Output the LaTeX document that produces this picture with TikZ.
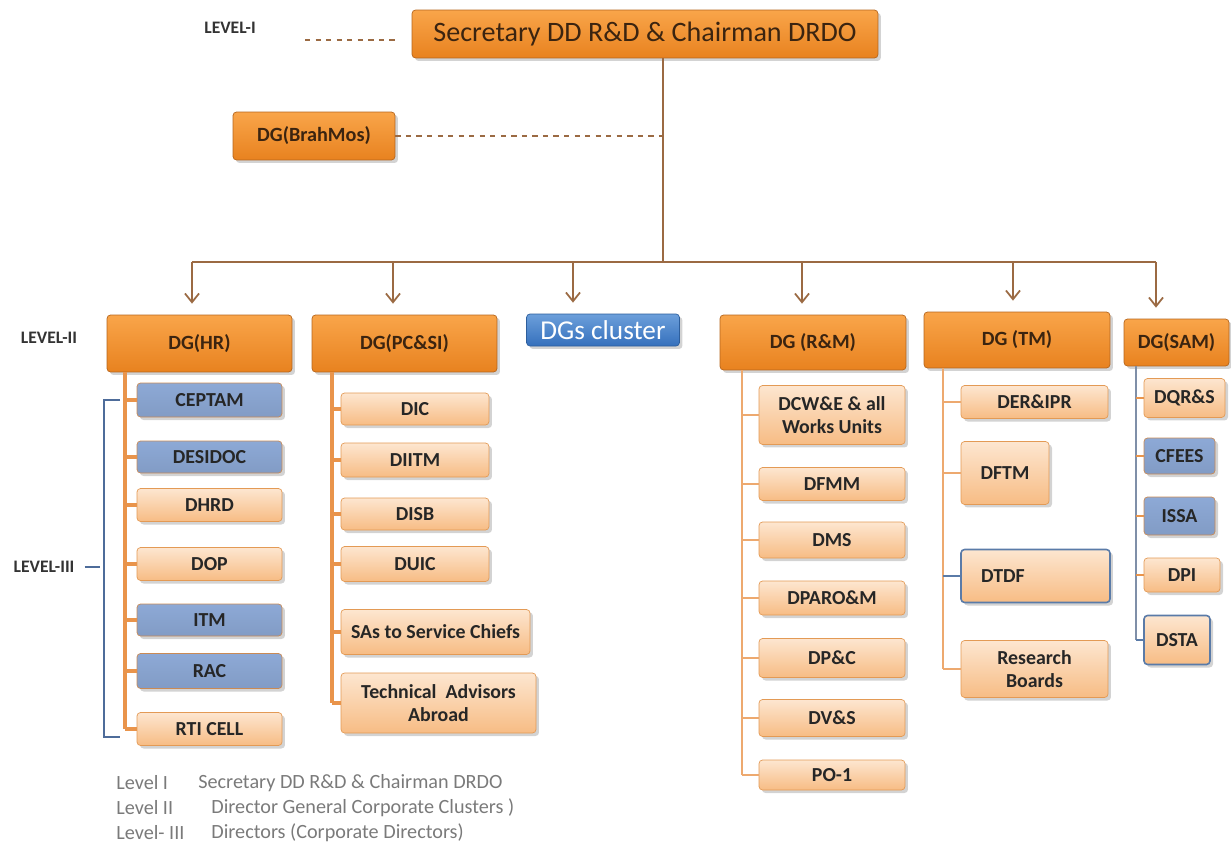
\documentclass[tikz,border=0pt]{standalone}
\usepackage{fontspec}
\setmainfont{Carlito}
\usetikzlibrary{arrows.meta,shadows}

\definecolor{dgtop}{HTML}{F9A54A}
\definecolor{dgbot}{HTML}{E8821F}
\definecolor{dgline}{HTML}{B5651D}
\definecolor{dgtext}{HTML}{3B2410}
\definecolor{dirtop}{HTML}{FDE6D0}
\definecolor{dirbot}{HTML}{F7BC84}
\definecolor{dirline}{HTML}{E39A55}
\definecolor{bluefill}{HTML}{8DA9D6}
\definecolor{blueedge}{HTML}{C98A55}
\definecolor{blueline}{HTML}{5A7BA8}
\definecolor{clustop}{HTML}{6C9FDB}
\definecolor{clusbot}{HTML}{3570BC}
\definecolor{clusline}{HTML}{2D5E9C}
\definecolor{linkbrown}{HTML}{9B6A43}
\definecolor{trunkorange}{HTML}{E9944B}
\definecolor{samtrunk}{HTML}{7F8FA8}
\definecolor{bracketblue}{HTML}{4E6C9A}
\definecolor{legendgrey}{HTML}{7A7A7A}

\tikzset{
  wh/.style 2 args={minimum width=#1cm, minimum height=#2cm},
  shade/.style={drop shadow={opacity=.35, shadow xshift=.06cm, shadow yshift=-.06cm}},
  topbox/.style={rounded corners=2pt, draw=dgline, top color=dgtop, bottom color=dgbot, shade,
    font=\fontsize{16}{18}\selectfont, text=dgtext},
  dgbox/.style={rounded corners=2pt, draw=dgline, top color=dgtop, bottom color=dgbot, shade,
    font=\bfseries\fontsize{11.5}{13}\selectfont, text=dgtext},
  dirbox/.style={rounded corners=2pt, draw=dirline, top color=dirtop, bottom color=dirbot, shade,
    align=center, inner sep=1pt, font=\bfseries\fontsize{11.3}{13}\selectfont, text=black!85},
  bluebox/.style={dirbox, draw=blueedge, top color=bluefill, bottom color=bluefill!92!black},
  blueedged/.style={dirbox, draw=blueline, line width=.9pt},
  clusterbox/.style={rounded corners=2pt, draw=clusline, top color=clustop, bottom color=clusbot, shade,
    inner sep=1pt, font=\fontsize{15.5}{16}\selectfont, text=white},
  lvl/.style={font=\bfseries\fontsize{10}{11}\selectfont, text=black!80},
  legend/.style={anchor=west, inner sep=0pt, font=\fontsize{11.5}{13}\selectfont, text=legendgrey},
  link/.style={draw=linkbrown, line width=1pt},
  drop/.style={link, -{Straight Barb[length=5pt,width=8pt]}, shorten >=0.22cm},
  dashlink/.style={draw=linkbrown, dashed, line width=.8pt},
  trunk/.style={draw=trunkorange, line width=1.8pt},
}

\begin{document}
\begin{tikzpicture}[x=0.02cm, y=-0.02cm]
  \useasboundingbox (0,0) rectangle (1231,845);

  % Level I
  \node[topbox, wh={9.32}{0.96}] (sec) at (645,34) {Secretary DD R\&D \& Chairman DRDO};
  \node[dgbox, wh={3.24}{0.96}] (brahmos) at (314,136) {DG(BrahMos)};
  \node[lvl] (lvlone) at (230,28) {LEVEL-I};

  % Level II
  \node[dgbox, wh={3.7}{1.14}]  (hr)      at (199.5,343.5) {DG(HR)};
  \node[dgbox, wh={3.7}{1.14}]  (pcsi)    at (404.5,343.5) {DG(PC\&SI)};
  \node[clusterbox, wh={3.06}{0.64}] (cluster) at (603,330) {DGs cluster};
  \node[dgbox, wh={3.72}{1.1}]  (rm)      at (813,342.5) {DG (R\&M)};
  \node[dgbox, wh={3.72}{1.12}] (tm)      at (1017,340) {DG (TM)};
  \node[dgbox, wh={2.1}{0.94}]  (sam)     at (1176.5,342.5) {DG(SAM)};
  \node[lvl] (lvltwo) at (49,338) {LEVEL-II};

  % Level III - HR
  \node[bluebox, wh={2.9}{0.68}] (ceptam)  at (209.5,400) {CEPTAM};
  \node[bluebox, wh={2.9}{0.64}] (desidoc) at (209.5,457) {DESIDOC};
  \node[dirbox,  wh={2.9}{0.66}] (dhrd)    at (209.5,505) {DHRD};
  \node[dirbox,  wh={2.9}{0.66}] (dop)     at (209.5,564) {DOP};
  \node[bluebox, wh={2.9}{0.64}] (itm)     at (209.5,620) {ITM};
  \node[bluebox, wh={2.9}{0.7}]  (rac)     at (209.5,671) {RAC};
  \node[dirbox,  wh={2.9}{0.66}] (rti)     at (209.5,729) {RTI CELL};

  % Level III - PC&SI
  \node[dirbox, wh={2.96}{0.64}] (dic)   at (415,409) {DIC};
  \node[dirbox, wh={2.96}{0.68}] (diitm) at (415,460) {DIITM};
  \node[dirbox, wh={2.96}{0.64}] (disb)  at (415,514) {DISB};
  \node[dirbox, wh={2.96}{0.7}]  (duic)  at (415,564) {DUIC};
  \node[dirbox, wh={3.78}{0.9}]  (sas)   at (435.5,632) {SAs to Service Chiefs};
  \node[dirbox, wh={3.9}{1.2}]   (tech)  at (438.5,703) {Technical\ \ Advisors\\Abroad};

  % Level III - R&M
  \node[dirbox, wh={2.92}{1.18}] (dcwe)  at (832,415) {DCW\&E \& all\\Works Units};
  \node[dirbox, wh={2.92}{0.66}] (dfmm)  at (832,484) {DFMM};
  \node[dirbox, wh={2.92}{0.72}] (dms)   at (832,540) {DMS};
  \node[dirbox, wh={2.92}{0.68}] (dparo) at (832,598) {DPARO\&M};
  \node[dirbox, wh={2.92}{0.78}] (dpc)   at (832,658) {DP\&C};
  \node[dirbox, wh={2.92}{0.74}] (dvs)   at (832,718) {DV\&S};
  \node[dirbox, wh={2.92}{0.6}]  (po)    at (832,775) {PO-1};

  % Level III - TM
  \node[dirbox, wh={2.94}{0.66}] (derip) at (1034.5,402) {DER\&IPR};
  \node[dirbox, wh={1.76}{1.26}] (dftm)  at (1005,473) {DFTM};
  \node[blueedged, wh={2.98}{1.06}, inner xsep=0.4cm, text width=2.18cm, align=left] (dtdf) at (1035.5,576) {DTDF};
  \node[dirbox, wh={2.94}{1.14}] (rboards) at (1034.5,669) {Research\\Boards};

  % Level III - SAM
  \node[dirbox,  wh={1.62}{0.78}] (dqrs)  at (1184.5,398) {DQR\&S};
  \node[bluebox, wh={1.42}{0.72}] (cfees) at (1179.5,456) {CFEES};
  \node[bluebox, wh={1.42}{0.76}] (issa)  at (1179.5,516) {ISSA};
  \node[dirbox,  wh={1.52}{0.68}] (dpi)   at (1182,575) {DPI};
  \node[blueedged, wh={1.32}{0.98}] (dsta) at (1177,640) {DSTA};

  \node[lvl] (lvlthree) at (44,567) {LEVEL-III};

  % Connect the nodes
  \coordinate (stem) at (663,262);
  \draw[link] (sec.south -| stem) -- (stem);
  \coordinate (b1) at (192,262);
  \coordinate (b2) at (393,262);
  \coordinate (b3) at (573,262);
  \coordinate (b4) at (802,262);
  \coordinate (b5) at (1013,262);
  \coordinate (b6) at (1156,262);
  \draw[link] (b1) -- (b6);
  \foreach \b/\n in {b1/hr, b2/pcsi, b3/cluster, b4/rm, b5/tm, b6/sam}
    \draw[drop] (\b) -- (\b |- \n.north);

  \coordinate (d1) at (305,40);
  \draw[dashlink] (d1) -- (d1 -| sec.west) [shorten >=0.24cm];
  \draw[dashlink] (brahmos) -- (brahmos -| stem);

  % Trunks
  \coordinate (hrt) at (125,372);
  \coordinate (pct) at (332,372);
  \coordinate (rmt) at (742,370);
  \coordinate (tmt) at (943,368);
  \coordinate (samt) at (1136,366);
  \draw[trunk] (hrt) -- (hrt |- rti.west);
  \foreach \c in {ceptam, desidoc, dhrd, dop, itm, rac, rti}
    \draw[trunk] (hrt |- \c.west) -- (\c.west);
  \draw[trunk] (pct) -- (pct |- tech.west);
  \foreach \c in {dic, diitm, disb, duic, sas, tech}
    \draw[trunk] (pct |- \c.west) -- (\c.west);
  \draw[trunk, line width=1.5pt, draw=trunkorange!80] (rmt) -- (rmt |- po.west);
  \foreach \c in {dcwe, dfmm, dms, dparo, dpc, dvs, po}
    \draw[trunk, line width=1.5pt, draw=trunkorange!80] (rmt |- \c.west) -- (\c.west);
  \draw[trunk, line width=1.5pt, draw=trunkorange!80] (tmt) -- (tmt |- rboards.west);
  \foreach \c in {derip, dftm, rboards}
    \draw[trunk, line width=1.5pt, draw=trunkorange!80] (tmt |- \c.west) -- (\c.west);
  \draw[line width=1.5pt, draw=blueline] (tmt |- dtdf.west) -- (dtdf.west);
  \draw[line width=1.5pt, draw=samtrunk] (samt) -- (samt |- dsta.west);
  \foreach \c in {dqrs, cfees, issa, dpi}
    \draw[trunk, line width=1.5pt] (samt |- \c.west) -- (\c.west);
  \draw[line width=1.5pt, draw=blueline] (samt |- dsta.west) -- (dsta.west);

  % Level III bracket
  \coordinate (brtop) at (120,400);
  \coordinate (brbot) at (120,737);
  \draw[bracketblue, line width=1pt] (brtop) -- ++(-16,0) |- (brbot);
  \draw[bracketblue, line width=1pt] (lvlthree.east) ++(4,0) -- (100,567);

  % Legend
  \node[legend] (leg1) at (116,783) {Level I};
  \node[legend] (leg1t) at (198,783) {Secretary DD R\&D \& Chairman DRDO};
  \node[legend] (leg2) at (116,808) {Level II};
  \node[legend] (leg2t) at (211,808) {Director General Corporate Clusters )};
  \node[legend] (leg3) at (116,833) {Level- III};
  \node[legend] (leg3t) at (211,833) {Directors (Corporate Directors)};

\end{tikzpicture}
\end{document}
